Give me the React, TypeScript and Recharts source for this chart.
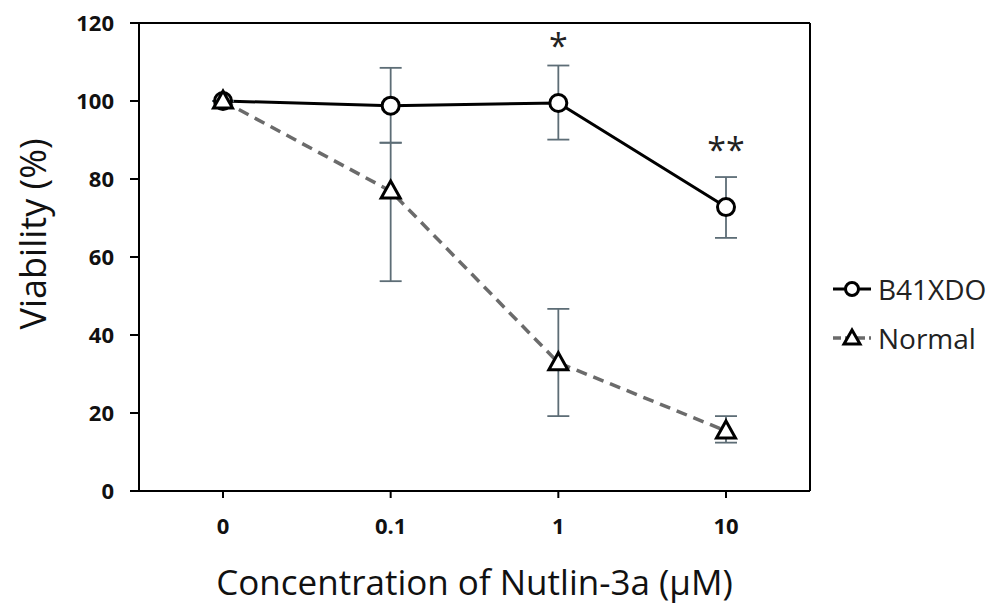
import {
  LineChart,
  Line,
  XAxis,
  YAxis,
  ErrorBar,
  LabelList,
  Legend,
  ReferenceLine,
} from "recharts";

const concentrations = ["0", "0.1", "1", "10"];
const b41xdo = [100, 98.8, 99.5, 72.8];
const b41xdoErr = [
  [0, 0],
  [9.5, 9.7],
  [9.4, 9.6],
  [7.9, 7.7],
];
const normal = [100, 76.9, 32.9, 15.4];
const normalErr = [
  [0, 0],
  [23.1, 12.4],
  [13.7, 13.8],
  [3.0, 3.8],
];
const significance = ["", "", "*", "**"];
const yTicks = [0, 20, 40, 60, 80, 100, 120];

const data = concentrations.map((name, i) => ({
  name,
  b41xdo: b41xdo[i],
  b41xdoErr: b41xdoErr[i],
  normal: normal[i],
  normalErr: normalErr[i],
  sig: significance[i],
}));

const FONT = "'Open Sans', 'Noto Sans', sans-serif";
const ERR_COLOR = "#5d6d76";
const tickStyle = { fontFamily: FONT, fontSize: 22, fontWeight: 700, fill: "#111" };

const Triangle = (props: any) => {
  const { cx, cy, index } = props;
  if (cx == null || cy == null) return <g key={`t-${index}`} />;
  return (
    <path
      key={`t-${index}`}
      d={`M${cx},${cy - 10} L${cx + 9.5},${cy + 7} L${cx - 9.5},${cy + 7} Z`}
      fill="#fff"
      stroke="#000"
      strokeWidth={3}
    />
  );
};

// axis titles drawn from the axis viewBox
const XTitle = (props: any) => {
  const { viewBox } = props;
  const x = viewBox.x + viewBox.width / 2;
  const y = viewBox.y + 104;
  return (
    <text x={x} y={y} textAnchor="middle" fontFamily={FONT} fontSize={35} fill="#111">
      Concentration of Nutlin-3a (μM)
    </text>
  );
};

const YTitle = (props: any) => {
  const { viewBox } = props;
  const x = 32;
  const y = viewBox.y + viewBox.height / 2 - 23;
  return (
    <text
      x={x}
      y={y}
      transform={`rotate(-90 ${x} ${y})`}
      textAnchor="middle"
      dominantBaseline="central"
      fontFamily={FONT}
      fontSize={36}
      fill="#111"
    >
      Viability (%)
    </text>
  );
};

const LegendContent = () => (
  <div style={{ fontFamily: FONT, fontSize: 28, color: "#222", lineHeight: 1 }}>
    <div style={{ display: "flex", alignItems: "center", height: 49 }}>
      <svg width={40} height={24}>
        <line x1={0} y1={12} x2={38} y2={12} stroke="#000" strokeWidth={3} />
        <circle cx={19} cy={12} r={6.5} fill="#fff" stroke="#000" strokeWidth={3} />
      </svg>
      <span style={{ marginLeft: 5 }}>B41XDO</span>
    </div>
    <div style={{ display: "flex", alignItems: "center", height: 49 }}>
      <svg width={40} height={24}>
        <line
          x1={0}
          y1={12}
          x2={38}
          y2={12}
          stroke="#6b6b6b"
          strokeWidth={3.5}
          strokeDasharray="8 4"
        />
        <path d="M19,4 L27,18 L11,18 Z" fill="#fff" stroke="#000" strokeWidth={3} />
      </svg>
      <span style={{ marginLeft: 5 }}>Normal</span>
    </div>
  </div>
);

export default function App() {
  return (
    <div style={{ position: "absolute", left: 0, top: 0, background: "#fff" }}>
      <LineChart
        width={1001}
        height={606}
        data={data}
        margin={{ top: 23, right: 190, bottom: 0, left: 0 }}
      >
        <XAxis
          dataKey="name"
          height={115}
          padding={{ left: 84, right: 84 }}
          axisLine={{ stroke: "#000", strokeWidth: 2 }}
          tickLine={{ stroke: "#000", strokeWidth: 2 }}
          tickSize={7}
          tickMargin={20}
          tick={tickStyle}
          label={<XTitle />}
        />
        <YAxis
          domain={[0, 120]}
          ticks={yTicks}
          width={139}
          axisLine={{ stroke: "#000", strokeWidth: 2 }}
          tickLine={{ stroke: "#000", strokeWidth: 2 }}
          tickSize={9}
          tickMargin={16}
          tick={tickStyle}
          label={<YTitle />}
        />
        <YAxis
          yAxisId="frame"
          orientation="right"
          domain={[0, 120]}
          width={1}
          tick={false}
          tickLine={false}
          axisLine={{ stroke: "#000", strokeWidth: 2 }}
        />
        <ReferenceLine y={120} stroke="#000" strokeWidth={2} />
        <Legend
          layout="horizontal"
          verticalAlign="middle"
          align="center"
          content={<LegendContent />}
          wrapperStyle={{ position: "absolute", left: 833, top: 264, width: 168 }}
        />
        <Line
          dataKey="b41xdo"
          name="B41XDO"
          stroke="#000"
          strokeWidth={3}
          dot={{ r: 8.5, fill: "#fff", stroke: "#000", strokeWidth: 3 }}
          activeDot={false}
          isAnimationActive={false}
        >
          <ErrorBar dataKey="b41xdoErr" width={11} stroke={ERR_COLOR} strokeWidth={1.8} />
          <LabelList
            dataKey="sig"
            position="top"
            offset={45}
            style={{ fontFamily: FONT, fontSize: 34, fill: "#222" }}
          />
        </Line>
        <Line
          dataKey="normal"
          name="Normal"
          stroke="#6b6b6b"
          strokeWidth={3.5}
          strokeDasharray="11 7"
          dot={Triangle}
          activeDot={false}
          isAnimationActive={false}
        >
          <ErrorBar dataKey="normalErr" width={11} stroke={ERR_COLOR} strokeWidth={1.8} />
        </Line>
      </LineChart>
    </div>
  );
}
